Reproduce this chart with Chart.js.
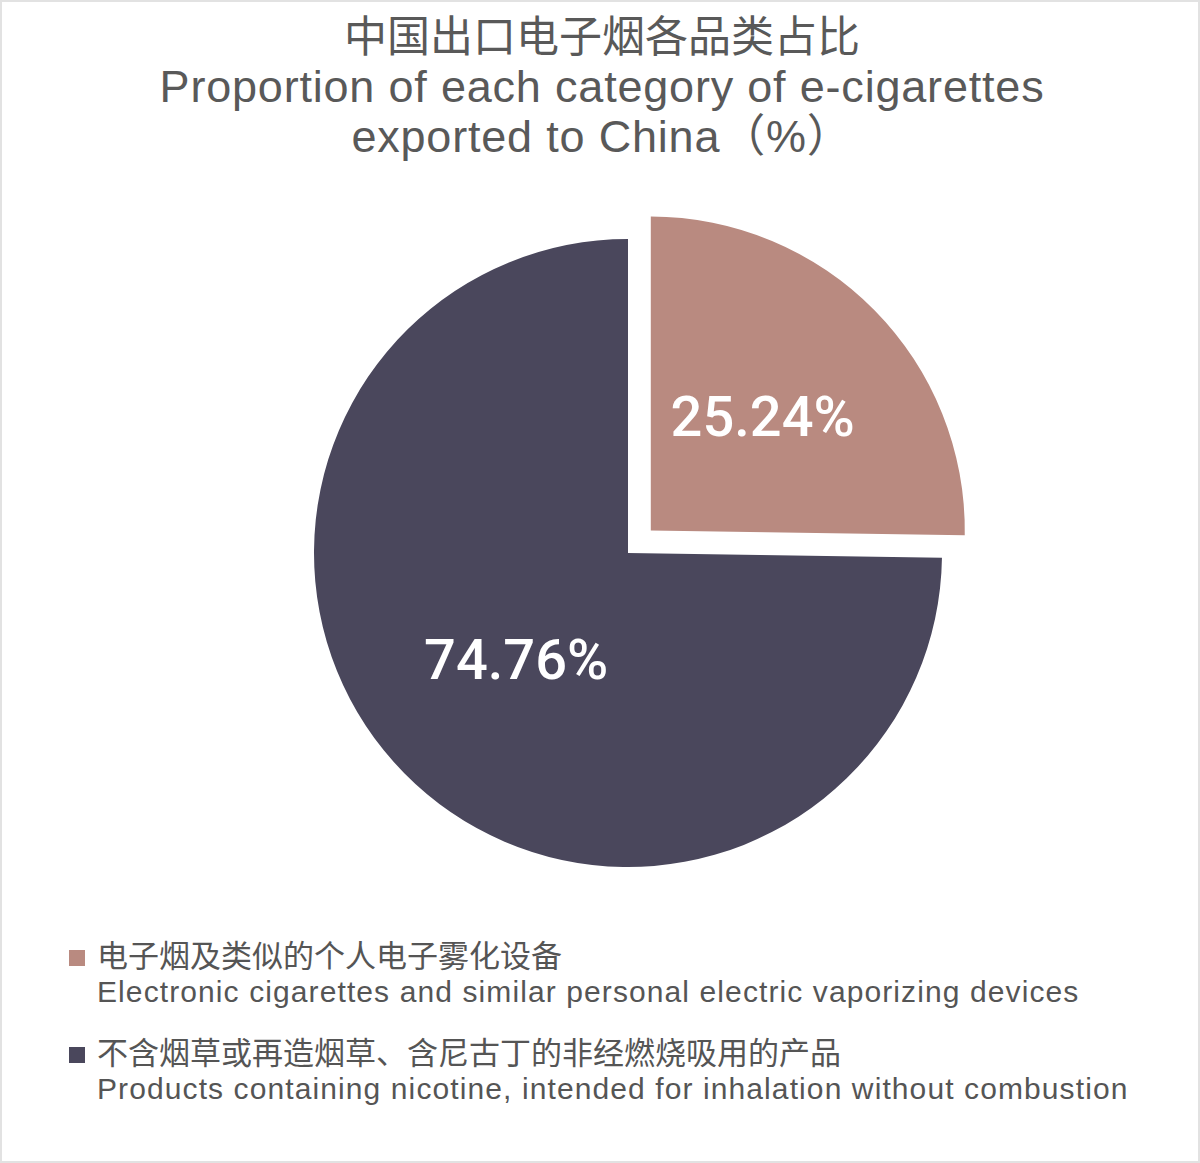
<!DOCTYPE html>
<html>
<head>
<meta charset="utf-8">
<script src="https://cdn.jsdelivr.net/npm/chart.js@4"></script>
<style>
  html, body { margin: 0; padding: 0; background: #fff; }
  #frame {
    position: absolute; left: 0; top: 0; width: 1200px; height: 1163px;
    box-sizing: border-box; border: 2px solid #e2e2e2; overflow: hidden;
  }
  #title {
    position: absolute; left: 0; top: 10px; width: 1200px; text-align: center;
    color: #595959; font-family: "Liberation Sans", "Noto Sans CJK SC", sans-serif;
    font-size: 45px; line-height: 50px; letter-spacing: 0.8px;
  }
  #title .cn { font-family: "Noto Sans CJK SC", sans-serif; font-size: 43px; letter-spacing: 0; margin-top: -4px; margin-bottom: 4px; }
  #chartBox { position: absolute; left: 276px; top: 201px; width: 700px; height: 700px; }
  #legend {
    position: absolute; left: 64px; top: 932px; color: #555;
    font-family: "Liberation Sans", "Noto Sans CJK SC", sans-serif;
  }
  .item { position: relative; padding-left: 31px; margin-bottom: 21px; }
  .item .sq { position: absolute; left: 3px; top: 16px; width: 16px; height: 16px; }
  .item .cn { font-family: "Noto Sans CJK SC", sans-serif; font-size: 31px; line-height: 40px; }
  .item .en { font-size: 30px; line-height: 36px; letter-spacing: 1.1px; }
</style>
</head>
<body>
<div id="frame">
  <div id="title"></div>
  <div id="chartBox"><canvas id="pieChart"></canvas></div>
  <div id="legend"></div>
</div>
<script>
// datos del gráfico
const tituloLineas = ['中国出口电子烟各品类占比', 'Proportion of each category of e-cigarettes', 'exported to China（%）'];
const categoriasCn = ['电子烟及类似的个人电子雾化设备', '不含烟草或再造烟草、含尼古丁的非经燃烧吸用的产品'];
const categoriasEn = ['Electronic cigarettes and similar personal electric vaporizing devices', 'Products containing nicotine, intended for inhalation without combustion'];
const valores = [25.24, 74.76];

const colores = ['#b98a80', '#4a475c'];

// título
const titulo = document.getElementById('title');
tituloLineas.forEach((t, i) => {
    const d = document.createElement('div');
    if (i === 0) d.className = 'cn';
    d.textContent = t;
    titulo.appendChild(d);
});

// leyenda
const leyenda = document.getElementById('legend');
categoriasCn.forEach((cn, i) => {
    const item = document.createElement('div');
    item.className = 'item';
    item.innerHTML = '<span class="sq"></span><div class="cn"></div><div class="en"></div>';
    item.querySelector('.sq').style.background = colores[i];
    item.querySelector('.cn').textContent = cn;
    item.querySelector('.en').textContent = categoriasEn[i];
    leyenda.appendChild(item);
});

// etiquetas de porcentaje dentro de cada sector
// (Chart.js desplaza el sector offset/4 px)
const etiquetas = {
    id: 'etiquetas',
    afterDatasetsDraw(chart) {
        const ctx = chart.ctx;
        const meta = chart.getDatasetMeta(0);
        ctx.save();
        ctx.fillStyle = '#ffffff';
        ctx.font = '500 56px Roboto, "Liberation Sans", sans-serif';
        ctx.textAlign = 'center';
        ctx.textBaseline = 'middle';
        meta.data.forEach((arc, i) => {
            const p = arc.getProps(['x', 'y', 'startAngle', 'endAngle', 'outerRadius']);
            const mid = (p.startAngle + p.endAngle) / 2;
            const dist = (arc.options.offset || 0) / 4 + p.outerRadius * 0.5;
            ctx.fillText(valores[i].toFixed(2) + '%', p.x + Math.cos(mid) * dist, p.y + Math.sin(mid) * dist + 2);
        });
        ctx.restore();
    }
};

new Chart(document.getElementById('pieChart').getContext('2d'), {
    type: 'pie',
    data: {
        labels: categoriasEn,
        datasets: [{
            data: valores,
            backgroundColor: colores,
            borderWidth: 0,
            offset: [128, 0]
        }]
    },
    options: {
        responsive: true,
        maintainAspectRatio: false,
        animation: false,
        events: [],
        radius: 314,
        layout: { padding: 0 },
        plugins: {
            legend: { display: false },
            tooltip: { enabled: false }
        }
    },
    plugins: [etiquetas]
});
</script>
</body>
</html>
